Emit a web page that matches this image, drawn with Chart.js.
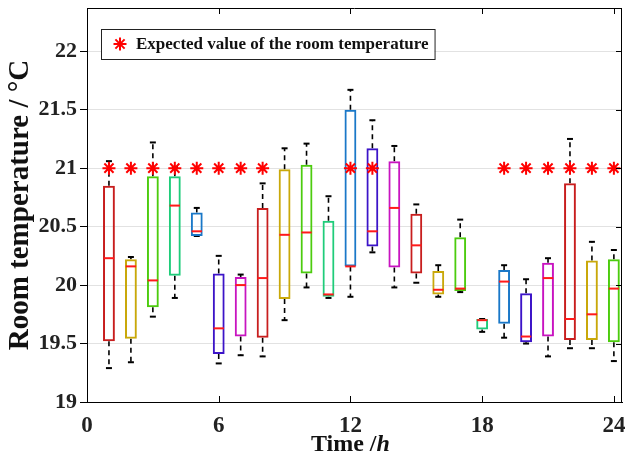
<!DOCTYPE html>
<html>
<head>
<meta charset="utf-8">
<script src="https://cdn.jsdelivr.net/npm/chart.js@4.4.0/dist/chart.umd.min.js"></script>
<style>
  html, body { margin: 0; padding: 0; background: #fff; }
</style>
</head>
<body>
<canvas id="chart" width="625" height="462"></canvas>
<script>
// hourly room temperature box plots
const hours = [1, 2, 3, 4, 5, 6, 7, 8, 9, 10, 11, 12, 13, 14, 15, 16, 17, 18, 19, 20, 21, 22, 23, 24];
const upperWhisker = [21.06, 20.24, 21.22, 21.01, 20.66, 20.25, 20.09, 20.87, 21.17, 21.21, 20.76, 21.67,
                      21.41, 21.19, 20.69, 20.17, 20.56, 19.71, 20.17, 20.05, 20.23, 21.25, 20.37, 20.30];
const q3 = [20.85, 20.22, 20.93, 20.93, 20.62, 20.10, 20.07, 20.66, 20.99, 21.03, 20.55, 21.50,
            21.17, 21.06, 20.61, 20.12, 20.41, 19.71, 20.13, 19.93, 20.19, 20.87, 20.21, 20.22];
const medians = [20.23, 20.16, 20.04, 20.68, 20.46, 19.63, 20.00, 20.06, 20.43, 20.45, 19.92, 20.16,
                 20.46, 20.66, 20.34, 19.96, 19.97, 19.70, 20.03, 19.56, 20.06, 19.71, 19.75, 19.97];
const q1 = [19.52, 19.54, 19.81, 20.08, 20.42, 19.41, 19.56, 19.55, 19.88, 20.10, 19.90, 20.16,
            20.33, 20.15, 20.10, 19.92, 19.95, 19.62, 19.67, 19.51, 19.56, 19.53, 19.53, 19.51];
const lowerWhisker = [19.29, 19.34, 19.73, 19.89, 20.42, 19.33, 19.40, 19.39, 19.70, 19.98, 19.89, 19.90,
                      20.28, 19.98, 20.02, 19.90, 19.94, 19.60, 19.55, 19.50, 19.39, 19.46, 19.46, 19.35];
const expectedHours = [1, 2, 3, 4, 5, 6, 7, 8, 12, 13, 19, 20, 21, 22, 23, 24];
const expectedValue = 21;
const xTicks = [0, 6, 12, 18, 24];
const yTicks = [19, 19.5, 20, 20.5, 21, 21.5, 22];

const palette = ['#c81e1e', '#c9a80a', '#4ccc0e', '#1fcc7a', '#1a78c8', '#3c14c8', '#c814c0'];
const SERIF = "'Liberation Serif', 'DejaVu Serif', serif";
const legendText = 'Expected value of the room temperature';

const boxData = hours.map((h, i) => ({ x: h, y: [q1[i], q3[i]] }));
const whiskerData = [];
hours.forEach((h, i) => {
    whiskerData.push({ x: h, y: q3[i] }, { x: h, y: upperWhisker[i] }, { x: h, y: null });
    whiskerData.push({ x: h, y: q1[i] }, { x: h, y: lowerWhisker[i] }, { x: h, y: null });
});
const capData = [];
hours.forEach((h, i) => {
    capData.push({ x: h, y: upperWhisker[i] }, { x: h, y: lowerWhisker[i] });
});
const medianData = hours.map((h, i) => ({ x: h, y: medians[i] }));
const starData = expectedHours.map(h => ({ x: h, y: expectedValue }));

// frame, inward ticks, legend box and x title
const extrasPlugin = {
    id: 'extras',
    afterDraw(chart) {
        const { ctx, chartArea: ca, scales } = chart;
        ctx.save();
        ctx.strokeStyle = '#000';
        ctx.lineWidth = 1;
        ctx.beginPath();
        ctx.moveTo(ca.left, ca.top + 0.5);
        ctx.lineTo(ca.right, ca.top + 0.5);
        ctx.moveTo(ca.right - 0.5, ca.top);
        ctx.lineTo(ca.right - 0.5, ca.bottom);
        xTicks.forEach(v => {
            if (v === 0) return;
            const x = Math.round(scales.x.getPixelForValue(v)) + 0.5;
            ctx.moveTo(x, ca.bottom);
            ctx.lineTo(x, ca.bottom - 6);
            ctx.moveTo(x, ca.top);
            ctx.lineTo(x, ca.top + 6);
        });
        yTicks.forEach(v => {
            if (v === 19) return;
            const y = Math.round(scales.y.getPixelForValue(v)) + 0.5;
            ctx.moveTo(ca.right, y);
            ctx.lineTo(ca.right - 6, y);
        });
        ctx.stroke();

        // legend
        ctx.font = 'bold 17px ' + SERIF;
        const tw = ctx.measureText(legendText).width;
        const lx = ca.left + 14, ly = ca.top + 21;
        const lw = 35 + tw + 6, lh = 30;
        ctx.fillStyle = '#fff';
        ctx.fillRect(lx, ly, lw, lh);
        ctx.strokeStyle = '#222';
        ctx.strokeRect(lx + 0.5, ly + 0.5, lw, lh);
        ctx.strokeStyle = '#ff0000';
        ctx.lineWidth = 2;
        Chart.helpers.drawPoint(ctx, { pointStyle: 'star', radius: 6.5, borderWidth: 2, rotation: 0 }, lx + 19, ly + lh / 2);
        ctx.fillStyle = '#111';
        ctx.textBaseline = 'middle';
        ctx.textAlign = 'left';
        ctx.fillText(legendText, lx + 35, ly + lh / 2 + 1);

        // x title with italic h
        const cx = scales.x.getPixelForValue(12);
        ctx.font = 'bold 24px ' + SERIF;
        const w1 = ctx.measureText('Time /').width;
        ctx.font = 'italic bold 24px ' + SERIF;
        const w2 = ctx.measureText('h').width;
        const sx = cx - (w1 + w2) / 2;
        ctx.textBaseline = 'alphabetic';
        ctx.font = 'bold 24px ' + SERIF;
        ctx.fillText('Time /', sx, 451);
        ctx.font = 'italic bold 24px ' + SERIF;
        ctx.fillText('h', sx + w1, 451);
        ctx.restore();
    }
};

new Chart(document.getElementById('chart'), {
    type: 'bar',
    data: {
        datasets: [
            {
                type: 'scatter', data: starData, order: 0,
                pointStyle: 'star', pointRadius: 6.5, borderColor: '#ff0000', backgroundColor: '#ff0000', pointBorderWidth: 2
            },
            {
                type: 'scatter', data: medianData, order: 1,
                pointStyle: 'line', pointRadius: 5.2, borderColor: '#ff1a1a', pointBorderWidth: 2
            },
            {
                type: 'bar', data: boxData, order: 2,
                backgroundColor: 'rgba(255,255,255,0)',
                borderColor: hours.map((h, i) => palette[i % palette.length]),
                borderWidth: 2, borderSkipped: false,
                barPercentage: 0.54, categoryPercentage: 1
            },
            {
                type: 'scatter', data: capData, order: 3,
                pointStyle: 'line', pointRadius: 3, borderColor: '#000', pointBorderWidth: 2
            },
            {
                type: 'line', data: whiskerData, order: 4,
                borderColor: '#000', borderWidth: 1.6, borderDash: [5, 4],
                pointRadius: 0, spanGaps: false, fill: false
            }
        ]
    },
    options: {
        responsive: false,
        animation: false,
        events: [],
        layout: { autoPadding: false, padding: { left: 0, top: 8, right: 3, bottom: 0 } },
        plugins: { legend: { display: false }, tooltip: { enabled: false } },
        scales: {
            x: {
                type: 'linear', min: 0, max: 24.37, offset: false,
                afterBuildTicks: s => { s.ticks = xTicks.map(v => ({ value: v })); },
                afterFit: s => { s.height = 60; s.paddingLeft = 0; s.paddingRight = 0; },
                ticks: {
                    callback: v => String(v), autoSkip: false, maxRotation: 0,
                    font: { family: SERIF, size: 23, weight: 'bold' }, color: '#222', padding: 10
                },
                grid: { display: false, drawTicks: false },
                border: { color: '#000', width: 1 }
            },
            y: {
                min: 19, max: 22.37,
                afterBuildTicks: s => { s.ticks = yTicks.map(v => ({ value: v })); },
                afterFit: s => { s.width = 87; s.paddingTop = 0; s.paddingBottom = 0; },
                ticks: {
                    callback: v => String(v),
                    font: { family: SERIF, size: 22, weight: 'bold' }, color: '#222', padding: 3
                },
                grid: { color: '#e2e2e2', lineWidth: 1, tickColor: '#000', tickLength: 7 },
                border: { color: '#000', width: 1 },
                title: {
                    display: true, text: 'Room temperature / °C', color: '#111',
                    font: { family: SERIF, size: 29, weight: 'bold' }, padding: { top: 3, bottom: 0 }
                }
            }
        }
    },
    plugins: [extrasPlugin]
});
</script>
</body>
</html>
